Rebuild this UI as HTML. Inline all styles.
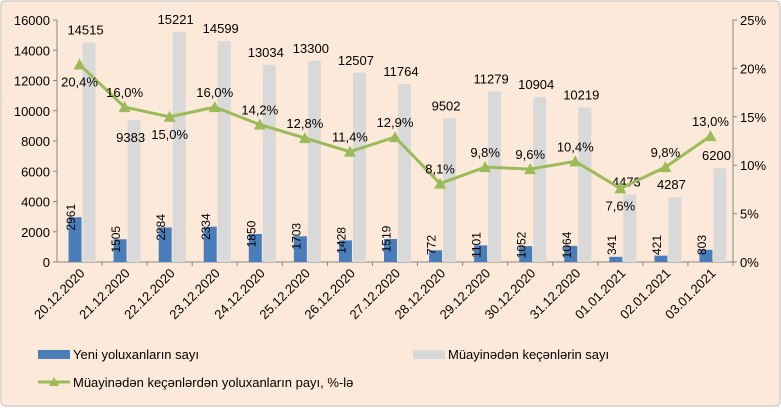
<!DOCTYPE html>
<html><head><meta charset="utf-8"><style>
body{margin:0;background:#fff}
svg text{font-family:"Liberation Sans",sans-serif;fill:#000}
</style></head><body>
<svg width="781" height="407" viewBox="0 0 781 407" xmlns="http://www.w3.org/2000/svg">
<rect x="1" y="1" width="779" height="405" rx="4" fill="#fce9d9" stroke="#bfbfbf"/>
<g id="plot"></g>
<g>
<rect x="38" y="350" width="32" height="9" fill="#4a7ebb"/>
<text x="73" y="359" font-size="13">Yeni yoluxanların sayı</text>
<rect x="413" y="350" width="32" height="9" fill="#d9d9d9"/>
<text x="448" y="359" font-size="13">Müayinədən keçənlərin sayı</text>
<line x1="38" y1="382" x2="70" y2="382" stroke="#9bbb59" stroke-width="3"/>
<polygon points="54,377 59,386 49,386" fill="#9bbb59"/>
<text x="73" y="387" font-size="13">Müayinədən keçənlərdən yoluxanların payı, %-lə</text>
</g>
</svg>
<script>
const categories=["20.12.2020","21.12.2020","22.12.2020","23.12.2020","24.12.2020","25.12.2020","26.12.2020","27.12.2020","28.12.2020","29.12.2020","30.12.2020","31.12.2020","01.01.2021","02.01.2021","03.01.2021"];
const newCases=[2961,1505,2284,2334,1850,1703,1428,1519,772,1101,1052,1064,341,421,803];
const tested=[14515,9383,15221,14599,13034,13300,12507,11764,9502,11279,10904,10219,4473,4287,6200];
const share=[20.4,16.0,15.0,16.0,14.2,12.8,11.4,12.9,8.1,9.8,9.6,10.4,7.6,9.8,13.0];
const leftTicks=[0,2000,4000,6000,8000,10000,12000,14000,16000];
const rightTicks=[0,5,10,15,20,25];
const labelBelow=[true,false,true,false,false,false,false,false,false,false,false,false,true,false,false];
const testedLabelShift=[0,30,0,0,0,0,0,0,0,0,0,0,0,0,0];
const NS="http://www.w3.org/2000/svg";
const X0=57,X1=733,Y0=262,Y1=20;
const bw=(X1-X0)/categories.length;
const xc=i=>X0+bw*(i+0.5);
const yL=v=>Y0-v/16000*(Y0-Y1);
const yR=v=>Y0-v/25*(Y0-Y1);
const g=document.getElementById('plot');
function mk(t,a,txt){const e=document.createElementNS(NS,t);for(const k in a)e.setAttribute(k,a[k]);if(txt!==undefined)e.textContent=txt;g.appendChild(e);return e;}
let e;
e=mk('line',{x1:X0,y1:Y1,x2:X0,y2:Y0,stroke:'#868686'});


e=mk('line',{x1:X1,y1:Y1,x2:X1,y2:Y0,stroke:'#868686'});


e=mk('line',{x1:X0,y1:Y0,x2:X1,y2:Y0,stroke:'#868686'});


leftTicks.forEach(v=>{
mk('line',{x1:X0-4,y1:yL(v),x2:X0,y2:yL(v),stroke:'#868686'});
e=mk('text',{x:X0-7,y:yL(v)+5,'font-size':13,'text-anchor':'end'},String(v));


});
rightTicks.forEach(v=>{
mk('line',{x1:X1,y1:yR(v),x2:X1+4,y2:yR(v),stroke:'#868686'});
e=mk('text',{x:X1+7,y:yR(v)+5,'font-size':13},v+'%');


});
categories.forEach((c,i)=>{
const x=xc(i);
mk('line',{x1:X0+bw*(i+1),y1:Y0,x2:X0+bw*(i+1),y2:Y0+4,stroke:'#868686'});
e=mk('text',{x:x+6,y:Y0+12,'font-size':13,'text-anchor':'end',transform:`rotate(-45 ${x+6} ${Y0+12})`},c);


e=mk('rect',{x:x-11,y:yL(newCases[i]),width:13,height:Y0-yL(newCases[i]),fill:'#4a7ebb'});


e=mk('rect',{x:x+3,y:yL(tested[i]),width:13,height:Y0-yL(tested[i]),fill:'#d9d9d9'});


});
categories.forEach((c,i)=>{
const x=xc(i);
const cy=Math.min(yL(newCases[i]),245);
e=mk('text',{x:x-8.5,y:cy,'font-size':12,'text-anchor':'middle',transform:`rotate(-90 ${x-8.5} ${cy})`,dy:4},String(newCases[i]));


e=mk('text',{x:x+6,y:yL(tested[i])-8+testedLabelShift[i],'font-size':13,'text-anchor':'middle'},String(tested[i]));


});
e=mk('polyline',{points:share.map((v,i)=>xc(i)+','+yR(v)).join(' '),fill:'none',stroke:'#9bbb59','stroke-width':3});


share.forEach((v,i)=>{
const x=xc(i),y=yR(v);
e=mk('polygon',{points:`${x},${y-6} ${x+6},${y+5} ${x-6},${y+5}`,fill:'#9bbb59'});


const ly=labelBelow[i]?y+22:y-10;
e=mk('text',{x:x,y:ly,'font-size':13,'text-anchor':'middle'},v.toFixed(1).replace('.',',')+'%');


});
</script>
</body></html>
